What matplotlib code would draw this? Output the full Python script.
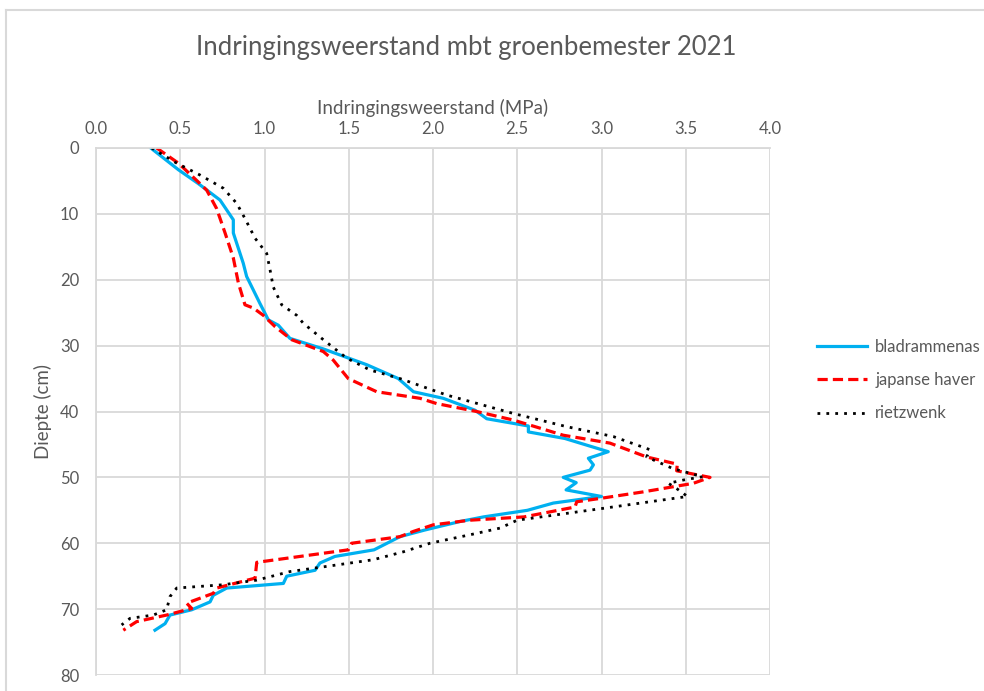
"""
Indringingsweerstand per diepte voor drie groenbemesters (2021).
Diepte loopt naar beneden, weerstand staat bovenaan als x-as.
"""

import matplotlib
matplotlib.use("Agg")
import matplotlib.pyplot as plt
from matplotlib.lines import Line2D

blad_diepte = [0, 3.3, 5.4, 7.9, 10.9, 12.9, 17.5, 19.5, 23.6, 26.1, 26.9, 28.9,
               30.5, 32.9, 35.0, 37.0, 38.0, 39.8, 41.1, 42.2, 43.1, 44.1, 46.1,
               47.1, 48.1, 48.9, 50.0, 50.8, 51.9, 52.9, 53.9, 55.0, 56.0, 56.7,
               58.0, 59.0, 61.0, 62.0, 63.0, 64.1, 65.0, 66.1, 66.8, 67.9, 68.9,
               70.1, 70.9, 72.2, 73.2]
blad_mpa = [0.325, 0.489, 0.607, 0.736, 0.815, 0.815, 0.874, 0.894, 0.973, 1.023,
            1.082, 1.151, 1.349, 1.607, 1.794, 1.884, 2.061, 2.249, 2.319, 2.566,
            2.566, 2.783, 3.040, 2.922, 2.952, 2.932, 2.773, 2.850, 2.790, 3.000,
            2.714, 2.560, 2.300, 2.160, 1.950, 1.804, 1.650, 1.418, 1.329, 1.300,
            1.132, 1.112, 0.776, 0.696, 0.677, 0.568, 0.439, 0.410, 0.350]

# japanse haver
haver_diepte = [0, 2.3, 5.4, 6.4, 9.2, 12.9, 16.7, 20.5, 23.8, 24.3, 25.4, 27.1,
                29.1, 30.9, 32.2, 35.0, 37.0, 38.0, 38.8, 40.0, 41.3, 43.6, 44.8,
                46.9, 48.0, 49.0, 50.0, 50.9, 52.2, 53.2, 53.7, 54.5, 56.0, 56.5,
                57.2, 58.2, 59.0, 60.0, 61.0, 62.9, 65.3, 66.8, 67.6, 69.1, 69.9,
                70.9, 71.9, 73.2]
haver_mpa = [0.360, 0.489, 0.617, 0.657, 0.716, 0.766, 0.815, 0.845, 0.884, 0.934,
             0.993, 1.062, 1.161, 1.349, 1.408, 1.497, 1.666, 1.923, 2.022, 2.259,
             2.477, 2.773, 3.050, 3.268, 3.450, 3.446, 3.644, 3.545, 3.248, 2.991,
             2.853, 2.843, 2.540, 2.220, 2.002, 1.884, 1.804, 1.517, 1.497, 0.954,
             0.944, 0.716, 0.696, 0.538, 0.568, 0.419, 0.241, 0.162]

# rietzwenk
riet_diepte = [0, 2.3, 4.1, 6.1, 8.4, 10.7, 13.7, 16.0, 18.5, 21.1, 23.8, 25.4,
               26.6, 29.1, 31.9, 33.7, 35.0, 37.5, 40.3, 42.3, 43.8, 45.8, 46.9,
               48.7, 49.9, 50.4, 50.9, 51.7, 52.9, 54.7, 56.5, 57.7, 58.6, 60.0,
               61.3, 62.5, 63.8, 64.3, 65.6, 66.3, 66.8, 68.1, 70.1, 70.9, 71.4,
               72.4]
riet_mpa = [0.330, 0.479, 0.617, 0.755, 0.835, 0.884, 0.944, 1.013, 1.033, 1.052,
            1.102, 1.191, 1.230, 1.349, 1.488, 1.626, 1.804, 2.081, 2.477, 2.793,
            3.070, 3.288, 3.268, 3.427, 3.600, 3.486, 3.397, 3.446, 3.510, 3.010,
            2.500, 2.398, 2.240, 1.982, 1.824, 1.646, 1.290, 1.151, 0.954, 0.755,
            0.479, 0.439, 0.419, 0.340, 0.202, 0.152]

x_ticks = [0.0, 0.5, 1.0, 1.5, 2.0, 2.5, 3.0, 3.5, 4.0]
y_ticks = [0, 10, 20, 30, 40, 50, 60, 70, 80]

GRID = "#d9d9d9"
TXT = "#595959"

plt.rcParams["font.family"] = ["Lato", "DejaVu Sans"]

fig = plt.figure(figsize=(9.84, 6.91), dpi=100)
ax = fig.add_axes([96 / 984, 1 - 675 / 691, 674 / 984, 527 / 691])

ax.plot(blad_mpa, blad_diepte, color="#00b0f0", lw=2.3, label="bladrammenas")
ax.plot(haver_mpa, haver_diepte, color="#ff0000", lw=2.3, ls=(0, (3.2, 1.6)),
        label="japanse haver")
ax.plot(riet_mpa, riet_diepte, color="black", lw=2.0, ls=(0, (1, 2.2)),
        label="rietzwenk")

ax.set_xlim(0, 4)
ax.set_ylim(80, 0)
ax.set_xticks(x_ticks)
ax.set_xticklabels([f"{t:.1f}" for t in x_ticks])
ax.set_yticks(y_ticks)
ax.xaxis.tick_top()
ax.xaxis.set_label_position("top")
ax.tick_params(length=0, labelsize=12, colors=TXT, pad=8)
ax.tick_params(axis="y", pad=12)
ax.grid(True, color=GRID, lw=1.3)
ax.set_axisbelow(True)
for side, sp in ax.spines.items():
    sp.set_color(GRID)
    sp.set_linewidth(1.3)
    sp.set_visible(side in ("left", "top"))

ax.set_xlabel("Indringingsweerstand (MPa)", fontsize=13.5, color=TXT, labelpad=5)
ax.set_ylabel("Diepte (cm)", fontsize=13.5, color=TXT, labelpad=6)
fig.text(466 / 984, 1 - 47 / 691, "Indringingsweerstand mbt groenbemester 2021",
         ha="center", va="center", fontsize=18.5, color=TXT)

handles = [Line2D([], [], color="#00b0f0", lw=2.3),
           Line2D([], [], color="#ff0000", lw=2.3, ls=(0, (3.2, 1.6))),
           Line2D([], [], color="black", lw=2.0, ls=(0, (1, 2.2)))]
fig.legend(handles, ["bladrammenas", "japanse haver", "rietzwenk"],
           loc="center left", bbox_to_anchor=(802 / 984, 1 - 380 / 691),
           frameon=False, fontsize=12, labelcolor=TXT, handlelength=3.0,
           handletextpad=0.5, labelspacing=1.05)

# kader van het grafiekgebied (alleen boven en links zichtbaar)
fig.add_artist(Line2D([6 / 984, 1], [1 - 10 / 691] * 2, color=GRID, lw=1.5,
                      transform=fig.transFigure))
fig.add_artist(Line2D([6 / 984] * 2, [0, 1 - 10 / 691], color=GRID, lw=1.5,
                      transform=fig.transFigure))

fig.savefig("out.png", dpi=100)
